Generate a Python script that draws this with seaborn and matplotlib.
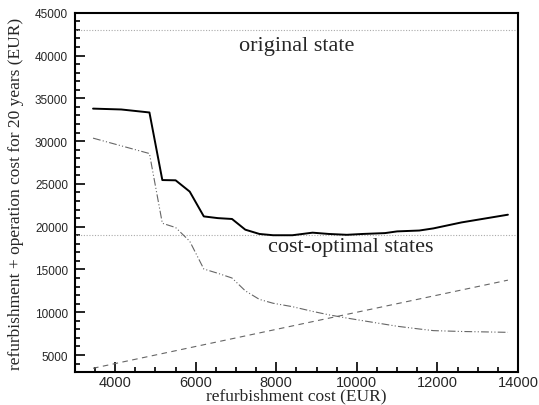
import matplotlib
matplotlib.use("Agg")
import matplotlib.pyplot as plt
import pandas as pd
import seaborn as sns
from matplotlib.ticker import MultipleLocator

# refurbishment cost (x) and the three curves
refurb_cost = [3450, 4150, 4850, 5170, 5500, 5850, 6200, 6550, 6900, 7230, 7580, 7920,
               8400, 8900, 9300, 9750, 10150, 10700, 11000, 11550, 11900, 12600, 13750]
total_cost = [33800, 33700, 33350, 25450, 25420, 24100, 21200, 21000, 20900, 19650, 19150, 19000,
              19000, 19300, 19150, 19050, 19150, 19250, 19450, 19550, 19800, 20500, 21400]
operation_cost = [30350, 29450, 28550, 20400, 19900, 18300, 15050, 14550, 14000, 12500, 11500, 11050,
                  10650, 10100, 9700, 9320, 9010, 8590, 8360, 8040, 7850, 7750, 7650]
refurb_part = [3450, 4150, 4850, 5170, 5500, 5850, 6200, 6550, 6900, 7230, 7580, 7920,
               8400, 8900, 9300, 9750, 10150, 10700, 11000, 11550, 11900, 12600, 13750]

original_state = 43000
optimal_level = 19000

df = pd.DataFrame({"x": refurb_cost, "total": total_cost,
                   "operation": operation_cost, "refurb": refurb_part})

sns.set_style("ticks")
serif = ["Liberation Serif", "DejaVu Serif"]
sans = ["Liberation Sans", "DejaVu Sans"]

fig = plt.figure(figsize=(5.39, 4.06), dpi=100)
ax = fig.add_axes([0.139, 0.081, 0.822, 0.885])

ax.axhline(original_state, color="#aaaaaa", lw=0.8, ls=(0, (1, 1.5)))
ax.axhline(optimal_level, color="#aaaaaa", lw=0.8, ls=(0, (1, 1.5)))

sns.lineplot(data=df, x="x", y="total", ax=ax, color="black", lw=1.4)
sns.lineplot(data=df, x="x", y="operation", ax=ax, color="#666666", lw=0.8,
             linestyle=(0, (7, 2, 1, 2, 1, 2)))
sns.lineplot(data=df, x="x", y="refurb", ax=ax, color="#666666", lw=0.8,
             linestyle=(0, (5, 4)))

ax.text(8500, 41200, "original state", family=serif, fontsize=16, ha="center", va="center")
ax.text(9850, 17700, "cost-optimal states", family=serif, fontsize=16, ha="center", va="center")

ax.set_xlim(3000, 14000)
ax.set_ylim(3000, 45000)
ax.xaxis.set_major_locator(MultipleLocator(2000))
ax.xaxis.set_minor_locator(MultipleLocator(500))
ax.yaxis.set_minor_locator(MultipleLocator(1000))
ax.set_yticks(range(5000, 45001, 5000))
ax.tick_params(which="both", direction="in", color="black", width=1.2)
ax.tick_params(which="major", length=7)
ax.tick_params(which="minor", length=3.5)
ax.tick_params(axis="x", pad=2, labelsize=10.5)
ax.tick_params(axis="y", pad=5, labelsize=8.5)
for lab in ax.get_xticklabels() + ax.get_yticklabels():
    lab.set_family(sans)

for s in ax.spines.values():
    s.set_color("black")
    s.set_linewidth(1.5)

ax.set_xlabel("refurbishment cost (EUR)", family=serif, fontsize=12.5, labelpad=-1)
ax.set_ylabel("refurbishment + operation cost for 20 years (EUR)", family=serif, fontsize=12.5, labelpad=8)

fig.savefig("out.png", dpi=100)
